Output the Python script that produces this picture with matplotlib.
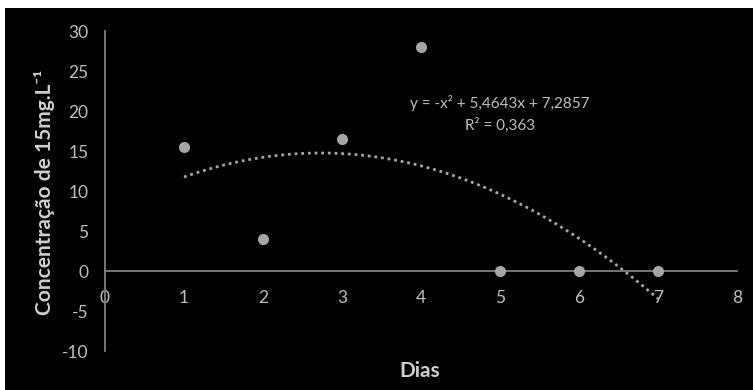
import numpy as np
import matplotlib
matplotlib.use("Agg")
import matplotlib.pyplot as plt
from matplotlib.patches import Rectangle

dias = [1, 2, 3, 4, 5, 6, 7]
concentracao = [15.5, 4.0, 16.5, 28.0, 0.0, 0.0, 0.0]
x_ticks = [0, 1, 2, 3, 4, 5, 6, 7, 8]
y_ticks = [-10, -5, 0, 5, 10, 15, 20, 25, 30]
eq_text = "y = -x\u00b2 + 5,4643x + 7,2857"
r2_text = "R\u00b2 = 0,363"

plt.rcParams['font.family'] = ['Lato', 'DejaVu Sans']
plt.rcParams['axes.unicode_minus'] = False

fig = plt.figure(figsize=(7.53, 3.90), dpi=100, facecolor='white')
fig.patches.append(Rectangle((5/753, 0), 1, 1 - 8/390, transform=fig.transFigure,
                             facecolor='black', edgecolor='none', zorder=-10))
ax = fig.add_axes([105/753, 39/390, 632/753, 320/390])
ax.set_facecolor('none')

tick_col = '#bfbfbf'
axis_col = '#808080'

# trendline (polynomial order 2)
coef = np.polyfit(dias, concentracao, 2)
xs = np.linspace(dias[0], dias[-1], 200)
ax.plot(xs, np.polyval(coef, xs), color='#a6a6a6', lw=2.0, linestyle=(0, (1, 1.4)),
        dash_capstyle='butt', zorder=2)

ax.plot(dias, concentracao, 'o', color='#a6a6a6', markersize=8, markeredgewidth=0, zorder=3)

ax.set_xlim(0, 8)
ax.set_ylim(-10, 30)
ax.set_xticks(x_ticks)
ax.set_yticks(y_ticks)
ax.spines['left'].set_position(('data', 0))
ax.spines['bottom'].set_position(('data', 0))
ax.spines['top'].set_visible(False)
ax.spines['right'].set_visible(False)
for s in ('left', 'bottom'):
    ax.spines[s].set_color(axis_col)
    ax.spines[s].set_linewidth(1.3)
ax.tick_params(axis='x', length=0, pad=14, colors=tick_col, labelsize=12.5)
ax.tick_params(axis='y', length=0, pad=12, colors=tick_col, labelsize=12.5)

fig.text(45/753, 1 - 192/390, "Concentração de 15mg.L\u207b\u00b9", rotation=90,
         ha='center', va='center', color='#d0d0d0', fontsize=15, fontweight='bold')
fig.text(420/753, 1 - 371/390, "Dias", ha='center', va='center', color='#d0d0d0',
         fontsize=15, fontweight='bold')

ax.text(5.0, 20.98, eq_text, ha='center', va='center', color='#bfbfbf', fontsize=11)
ax.text(5.0, 18.2, r2_text, ha='center', va='center', color='#bfbfbf', fontsize=11)

fig.savefig("out.png", dpi=100, facecolor=fig.get_facecolor())
